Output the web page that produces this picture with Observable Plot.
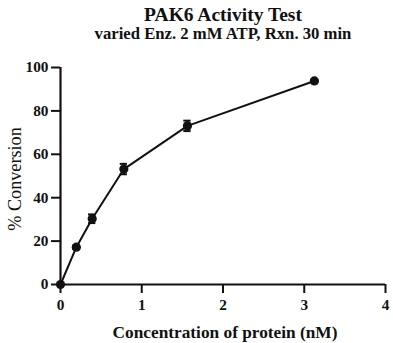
<!DOCTYPE html>
<html>
<head>
<meta charset="utf-8">
<script src="https://cdn.jsdelivr.net/npm/d3@7"></script>
<script src="https://cdn.jsdelivr.net/npm/@observablehq/plot@0.6"></script>
<style>
  html, body { margin: 0; padding: 0; background: #fff; }
  #wrap { width: 393px; height: 343px; position: relative; overflow: hidden; font-family: "Liberation Serif", "Times New Roman", serif; color: #111; }
  .title { position: absolute; left: 0; width: 393px; text-align: center; font-weight: bold; box-sizing: border-box; padding-left: 53px; white-space: nowrap; }
  #t1 { top: 5px; font-size: 19.5px; line-height: 20px; }
  #t2 { top: 25px; font-size: 16.7px; line-height: 17px; }
  #chart { position: absolute; left: 0; top: 46px; }
  #chart svg text { font-family: "Liberation Serif", "Times New Roman", serif !important; }
</style>
</head>
<body>
<div id="wrap">
  <div class="title" id="t1">PAK6 Activity Test</div>
  <div class="title" id="t2">varied Enz. 2 mM ATP, Rxn. 30 min</div>
  <div id="chart"></div>
</div>
<script>
const concentration = [0, 0.195, 0.39, 0.78, 1.5625, 3.125];
const conversion = [0, 17.2, 30.3, 53.2, 73.1, 93.8];
const errorSD = [0, 0.8, 2.0, 2.4, 2.4, 0.6];
const xTicks = [0, 1, 2, 3, 4];
const yTicks = [0, 20, 40, 60, 80, 100];
const xLabel = "Concentration of protein (nM)";
const yLabel = "% Conversion";

const data = concentration.map((x, i) => ({x, y: conversion[i], e: errorSD[i]}));
const capHalf = 0.045;

const plot = Plot.plot({
  width: 393,
  height: 297,
  marginLeft: 60,
  marginRight: 8,
  marginTop: 21,
  marginBottom: 59,
  style: "font-family: 'Liberation Serif', 'Times New Roman', serif; font-size: 15px; font-weight: bold; color: #111; background: #fff;",
  x: {domain: [0, 4]},
  y: {domain: [0, 100]},
  marks: [
    Plot.axisX({ticks: xTicks, tickSize: 9, tickPadding: 6, strokeWidth: 2, label: null, tickFormat: d => d, fontSize: 15.3, fontWeight: "bold"}),
    Plot.axisY({ticks: yTicks, tickSize: 9, tickPadding: 3, strokeWidth: 2, label: null, tickFormat: d => d, fontSize: 15.3, fontWeight: "bold"}),
    Plot.ruleY([0], {stroke: "#111", strokeWidth: 2.2}),
    Plot.ruleX([0], {stroke: "#111", strokeWidth: 2.2}),
    Plot.line(data, {x: "x", y: "y", stroke: "#111", strokeWidth: 2}),
    Plot.ruleX(data.filter(d => d.e > 0), {x: "x", y1: d => d.y - d.e, y2: d => d.y + d.e, stroke: "#111", strokeWidth: 2}),
    Plot.ruleY(data.filter(d => d.e > 0), {y: d => d.y - d.e, x1: d => d.x - capHalf, x2: d => d.x + capHalf, stroke: "#111", strokeWidth: 2}),
    Plot.ruleY(data.filter(d => d.e > 0), {y: d => d.y + d.e, x1: d => d.x - capHalf, x2: d => d.x + capHalf, stroke: "#111", strokeWidth: 2}),
    Plot.dot(data, {x: "x", y: "y", r: 4.6, fill: "#111", stroke: "none"}),
    Plot.text([xLabel], {frameAnchor: "bottom", lineAnchor: "bottom", dy: 53, dx: 2, text: d => d, fontSize: 17.3, fontWeight: "bold", fill: "#111"}),
    Plot.text([yLabel], {frameAnchor: "left", textAnchor: "middle", lineAnchor: "middle", dx: -45, dy: 3, rotate: -90, text: d => d, fontSize: 18.2, fontWeight: "normal", fill: "#111"})
  ]
});
document.getElementById("chart").appendChild(plot);
</script>
</body>
</html>
